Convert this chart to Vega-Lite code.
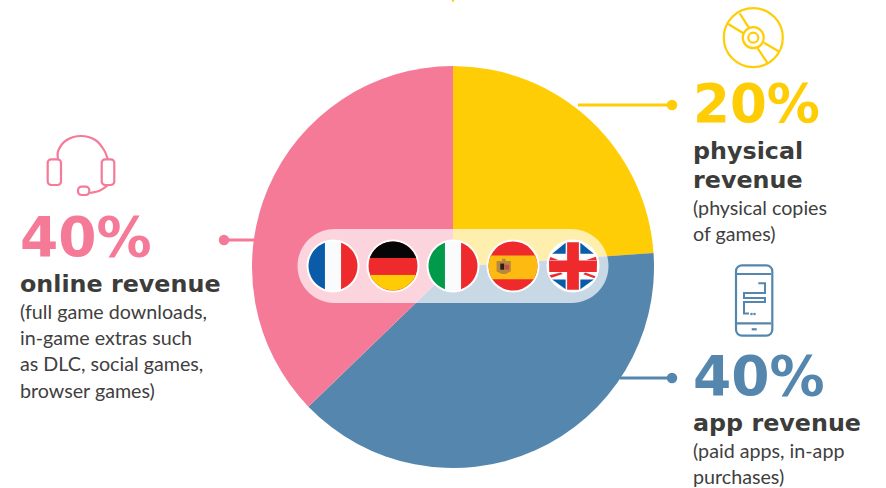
{
"$schema":"https://vega.github.io/schema/vega-lite/v6.json",
"width":886,"height":488,"padding":0,"autosize":{"type":"none"},
"background":"white","view":{"stroke":null},
"encoding":{
"x":{"field":"x","type":"quantitative","axis":null,"scale":{"domain":[0,886],"nice":false,"zero":false}},
"y":{"field":"y","type":"quantitative","axis":null,"scale":{"domain":[0,488],"reverse":true,"nice":false,"zero":false}}
},
"layer":[
{"data":{"values":[{"x":453,"y":267,"series":"physical","share":86,"k":1},{"x":453,"y":267,"series":"app","share":140,"k":2},{"x":453,"y":267,"series":"online","share":134,"k":3}]},
"mark":{"type":"arc","outerRadius":201,"innerRadius":0},
"encoding":{"theta":{"field":"share","type":"quantitative","stack":true},"order":{"field":"k"},"color":{"field":"series","type":"nominal","legend":null,"scale":{"domain":["physical","app","online"],"range":["#FFCD05","#5586AD","#F57A98"]}}}},
{"data":{"values":[{"x":578,"y":105,"x2":672,"y2":105,"series":"physical"},{"x":620,"y":378,"x2":672,"y2":378,"series":"app"},{"x":225,"y":240,"x2":256,"y2":240,"series":"online"}]},
"mark":{"type":"rule","strokeWidth":3},
"encoding":{"x2":{"field":"x2"},"y2":{"field":"y2"},"color":{"field":"series","type":"nominal","legend":null}}},
{"data":{"values":[
{"x":739.7,"y":13.3,"x2":749.3,"y2":28.3,"series":"physical"},{"x":728.3,"y":24,"x2":743.3,"y2":33.3,"series":"physical"},{"x":764,"y":42.7,"x2":779.3,"y2":51.7,"series":"physical"},{"x":757.7,"y":48.3,"x2":767.7,"y2":63.3,"series":"physical"},
{"x":737,"y":274,"x2":771,"y2":274,"series":"app"},{"x":737,"y":323.3,"x2":771,"y2":323.3,"series":"app"},{"x":751.7,"y":329.3,"x2":756.7,"y2":329.3,"series":"app"}]},
"mark":{"type":"rule","strokeWidth":2.2},
"encoding":{"x2":{"field":"x2"},"y2":{"field":"y2"},"color":{"field":"series","type":"nominal","legend":null}}},
{"data":{"values":[{"x":672,"y":105,"series":"physical"},{"x":672,"y":378,"series":"app"},{"x":224,"y":240,"series":"online"}]},
"mark":{"type":"point","filled":true,"opacity":1,"size":110},
"encoding":{"color":{"field":"series","type":"nominal","legend":null}}},
{"data":{"values":[{"x":453,"y":0.5,"series":"physical"},{"x":751.5,"y":314,"series":"app"},{"x":754.5,"y":314,"series":"app"}]},
"mark":{"type":"point","filled":true,"opacity":1,"size":5,"shape":"square"},
"encoding":{"color":{"field":"series","type":"nominal","legend":null}}},
{"data":{"values":[{"x":753.3,"y":37.7,"d":59},{"x":753.3,"y":37.7,"d":21},{"x":753.3,"y":37.7,"d":10}]},
"mark":{"type":"point","filled":false,"opacity":1,"strokeWidth":2.2,"color":"#FFCD05"},
"encoding":{"size":{"field":"d","type":"quantitative","legend":null,"scale":{"type":"pow","exponent":2,"domain":[0,59],"range":[0,3481]}}}},
{"data":{"values":[{"x":736,"y":265.3,"x2":772.3,"y2":335.7,"series":"app","part":"phone"}]},
"mark":{"type":"rect","filled":false,"strokeWidth":2.2,"cornerRadius":6},
"encoding":{"x2":{"field":"x2"},"y2":{"field":"y2"},"stroke":{"value":"#5586AD"}}},
{"data":{"values":[{"x":47.7,"y":159.3,"x2":61,"y2":185,"part":"cup"},{"x":101.7,"y":159.3,"x2":114.3,"y2":185,"part":"cup"},{"x":78,"y":186.7,"x2":89.3,"y2":195,"part":"mic"}]},
"mark":{"type":"rect","filled":false,"strokeWidth":2.2,"cornerRadius":3.5},
"encoding":{"x2":{"field":"x2"},"y2":{"field":"y2"},"stroke":{"value":"#F57A98"}}},
{"data":{"values":[{"x":58,"y":159,"p":"band","i":1},{"x":58.5,"y":150,"p":"band","i":2},{"x":66.7,"y":140,"p":"band","i":3},{"x":81,"y":136,"p":"band","i":4},{"x":95.3,"y":140,"p":"band","i":5},{"x":104,"y":150,"p":"band","i":6},{"x":107.7,"y":159,"p":"band","i":7},{"x":108,"y":185,"p":"arm","i":1},{"x":100,"y":190.5,"p":"arm","i":2},{"x":90,"y":193,"p":"arm","i":3}]},
"mark":{"type":"line","interpolate":"cardinal","strokeWidth":2.2,"color":"#F57A98"},
"encoding":{"detail":{"field":"p"},"order":{"field":"i"}}},
{"data":{"values":[{"x":758.3,"y":283.3,"i":1},{"x":765,"y":283.3,"i":2},{"x":765,"y":293,"i":3},{"x":744,"y":293,"i":4},{"x":744,"y":298,"i":5},{"x":765,"y":298,"i":6},{"x":765,"y":302,"i":7},{"x":744,"y":302,"i":8},{"x":744,"y":313.5,"i":9},{"x":749,"y":313.5,"i":10}]},
"mark":{"type":"line","strokeWidth":2,"color":"#5586AD"},
"encoding":{"order":{"field":"i"}}},
{"data":{"values":[{"x":297.5,"y":229,"x2":608.5,"y2":303}]},
"mark":{"type":"rect","cornerRadius":37,"color":"#ffffff","opacity":0.68},
"encoding":{"x2":{"field":"x2"},"y2":{"field":"y2"}}},
{"data":{"values":[{"x":333,"y":266},{"x":393,"y":266},{"x":453,"y":266},{"x":513,"y":266},{"x":573,"y":266}]},
"mark":{"type":"point","filled":true,"opacity":1,"shape":"circle","size":2809,"color":"#ffffff"}},
{"data":{"values":[
{"x":333,"y":266,"part":"fr-w"},{"x":333,"y":266,"part":"fr-b"},{"x":333,"y":266,"part":"fr-r"},
{"x":393,"y":266,"part":"de-r"},{"x":393,"y":266,"part":"de-k"},{"x":393,"y":266,"part":"de-y"},{"x":393,"y":266,"part":"de-rm"},
{"x":453,"y":266,"part":"it-w"},{"x":453,"y":266,"part":"it-g"},{"x":453,"y":266,"part":"it-r"},
{"x":513,"y":266,"part":"es-r"},{"x":513,"y":266,"part":"es-y"},{"x":513,"y":266,"part":"es-c1"},{"x":513,"y":266,"part":"es-c2"},{"x":513,"y":266,"part":"es-c3"},
{"x":573,"y":266,"part":"uk-w"},{"x":573,"y":266,"part":"uk-b"},{"x":573,"y":266,"part":"uk-d"},{"x":573,"y":266,"part":"uk-c"}
]},
"mark":{"type":"point","filled":true,"opacity":1,"stroke":null,"size":2401},
"encoding":{
"shape":{"field":"part","type":"nominal","legend":null,"scale":{"domain":["fr-w","fr-b","fr-r","de-r","de-k","de-y","de-rm","it-w","it-g","it-r","es-r","es-y","es-c1","es-c2","es-c3","uk-w","uk-b","uk-d","uk-c"],
"range":["circle","M-0.33,-0.944A1,1 0 0 0 -0.33,0.944Z","M0.33,-0.944A1,1 0 0 1 0.33,0.944Z","circle","M-0.944,-0.33A1,1 0 0 1 0.944,-0.33Z","M-0.932,0.36A1,1 0 0 0 0.932,0.36Z","M-0.944,-0.33L0.944,-0.33L0.932,0.36L-0.932,0.36Z","circle","M-0.33,-0.944A1,1 0 0 0 -0.33,0.944Z","M0.33,-0.944A1,1 0 0 1 0.33,0.944Z","circle","M-0.9,-0.43A1,1 0 0 0 -0.84,0.54L0.84,0.54A1,1 0 0 0 0.9,-0.43Z",
"M-0.67,-0.2L-0.45,-0.2L-0.45,-0.3L-0.3,-0.3L-0.3,-0.2L-0.09,-0.2L-0.09,0.22L-0.3,0.33L-0.45,0.33L-0.67,0.22Z",
"M-0.52,-0.1L-0.36,-0.1L-0.36,0.15L-0.52,0.15Z",
"M-0.33,-0.05L-0.16,-0.05L-0.16,0.15L-0.33,0.15Z",
"circle",
"M-0.3,-0.95L-0.3,-0.5L-0.85,-0.5ZM0.3,-0.95L0.3,-0.5L0.85,-0.5ZM-0.85,0.55L-0.3,0.55L-0.3,0.95ZM0.85,0.55L0.3,0.55L0.3,0.95Z",
"M-0.97,-0.25L-0.6,-0.25L-0.92,-0.37ZM0.55,-0.25L0.93,-0.38L0.97,-0.25ZM-0.96,0.38L-0.5,0.27L-0.42,0.33L-0.88,0.48ZM0.5,0.27L0.92,0.42L0.87,0.5L0.42,0.34Z",
"M-0.24,-0.97L0.24,-0.97L0.24,-0.22L0.98,-0.22L0.97,0.24L0.24,0.24L0.24,0.97L-0.24,0.97L-0.24,0.24L-0.97,0.24L-0.98,-0.22L-0.24,-0.22Z"]}},
"fill":{"field":"part","type":"nominal","legend":null,"scale":{"domain":["fr-w","fr-b","fr-r","de-r","de-k","de-y","de-rm","it-w","it-g","it-r","es-r","es-y","es-c1","es-c2","es-c3","uk-w","uk-b","uk-d","uk-c"],
"range":["#F9FBFD","#0A5CA9","#EE2A2D","#EE2A2D","#050505","#FFCB05","#EE2A2D","#F9FBFD","#009A4A","#EE2A2D","#EE2A2D","#FDBB11","#B9883F","#2A1E1E","#C8504A","#F9FBFD","#0A5CA9","#EE2A2D","#EE2A2D"]}}}},
{"data":{"values":[{"x":693,"y":122,"t":"20%","series":"physical"}]},
"mark":{"type":"text","font":"DejaVu Sans","fontWeight":"bold","fontSize":53,"align":"left","baseline":"alphabetic"},
"encoding":{"text":{"field":"t"},"color":{"field":"series","type":"nominal","legend":null}}},
{"data":{"values":[{"x":693,"y":395,"t":"40%","series":"app"},{"x":20,"y":256,"t":"40%","series":"online"}]},
"mark":{"type":"text","font":"DejaVu Sans","fontWeight":"bold","fontSize":55,"align":"left","baseline":"alphabetic"},
"encoding":{"text":{"field":"t"},"color":{"field":"series","type":"nominal","legend":null}}},
{"data":{"values":[{"x":693,"y":159,"t":"physical"},{"x":693,"y":188,"t":"revenue"},{"x":693,"y":431,"t":"app revenue"},{"x":20,"y":292,"t":"online revenue"}]},
"mark":{"type":"text","font":"DejaVu Sans","fontWeight":"bold","fontSize":23.8,"align":"left","baseline":"alphabetic","color":"#3C3C3B"},
"encoding":{"text":{"field":"t"}}},
{"data":{"values":[{"x":693,"y":215,"t":"(physical copies"},{"x":693,"y":241,"t":"of games)"},{"x":693,"y":458,"t":"(paid apps, in-app"},{"x":693,"y":484,"t":"purchases)"},{"x":20,"y":319,"t":"(full game downloads,"},{"x":20,"y":345,"t":"in-game extras such"},{"x":20,"y":371,"t":"as DLC, social games,"},{"x":20,"y":398,"t":"browser games)"}]},
"mark":{"type":"text","font":"Lato","fontSize":19.7,"align":"left","baseline":"alphabetic","color":"#404040"},
"encoding":{"text":{"field":"t"}}}
]
}
